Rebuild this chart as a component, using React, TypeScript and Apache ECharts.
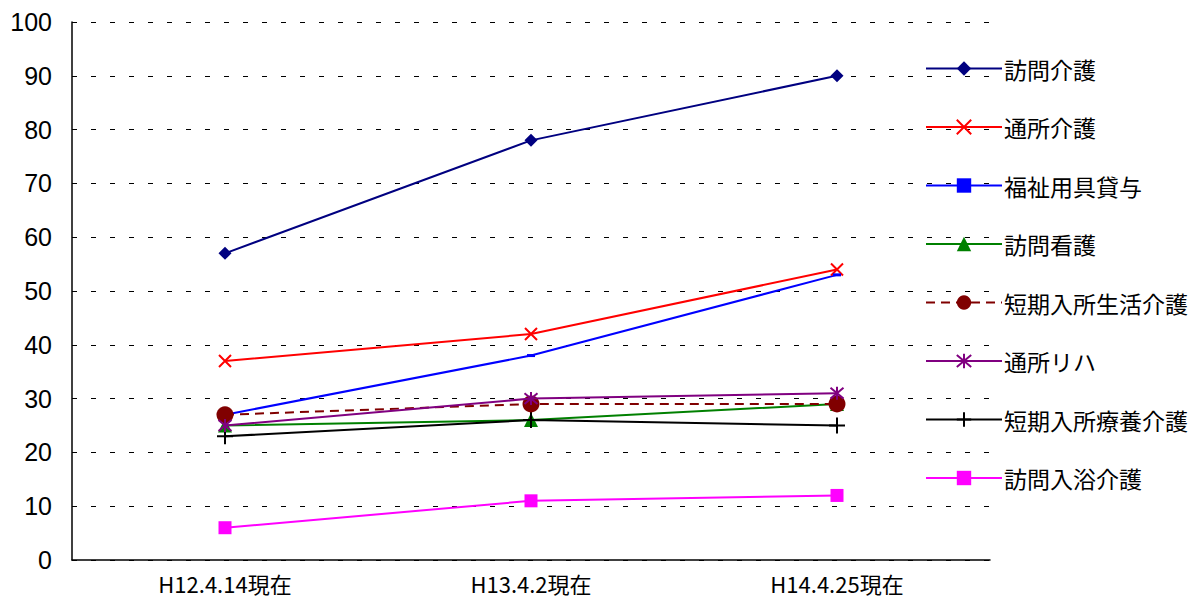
import React, { useEffect, useRef } from "react";
import * as echarts from "echarts";

const categories = ["H12.4.14現在", "H13.4.2現在", "H14.4.25現在"];
const seriesNames = [
  "訪問介護",
  "通所介護",
  "福祉用具貸与",
  "訪問看護",
  "短期入所生活介護",
  "通所リハ",
  "短期入所療養介護",
  "訪問入浴介護",
];
const houmonKaigo = [57, 78, 90];
const tsushoKaigo = [37, 42, 54];
const fukushiYogu = [27, 38, 53];
const houmonKango = [25, 26, 29];
const tankiSeikatsu = [27, 29, 29];
const tsushoReha = [25, 30, 31];
const tankiRyoyo = [23, 26, 25];
const houmonNyuyoku = [6, 11, 12];
const yTicks = [0, 10, 20, 30, 40, 50, 60, 70, 80, 90, 100];

const X_PATH = "path://M0,0L10,10M10,0L0,10";
const STAR_PATH = "path://M0,0L10,10M10,0L0,10M5,-1L5,11";
const PLUS_PATH = "path://M5,0L5,10M0,5L10,5";

export default function App() {
  const ref = useRef<HTMLDivElement>(null);
  useEffect(() => {
    if (!ref.current) return;
    const chart = echarts.init(ref.current, null, { renderer: "svg" });
    const mk = (
      name: string,
      data: number[],
      color: string,
      symbol: string,
      symbolSize: any,
      opts: any = {}
    ) => ({
      name,
      type: "line",
      data,
      symbol,
      symbolSize,
      lineStyle: { color, width: 2, type: opts.dashed ? [9, 6] : "solid" },
      itemStyle: opts.stroke
        ? { color: "transparent", borderColor: color, borderWidth: 2 }
        : { color, borderWidth: 0 },
      emphasis: { disabled: true },
      z: opts.z ?? 2,
    });
    chart.setOption({
      animation: false,
      backgroundColor: "#ffffff",
      grid: { left: 72, right: 211, top: 22, bottom: 39, containLabel: false },
      legend: {
        orient: "vertical",
        left: 920,
        top: 52,
        itemWidth: 76,
        itemHeight: 18,
        itemGap: 35.5,
        textStyle: {
          fontSize: 23,
          color: "#000",
          fontFamily: "Noto Sans CJK JP",
          padding: [0, 0, 0, -3],
        },
        data: seriesNames,
      },
      xAxis: {
        type: "category",
        data: categories,
        boundaryGap: true,
        axisLine: { lineStyle: { color: "#000", width: 1.5 } },
        axisTick: { inside: true, length: 5, lineStyle: { color: "#000" } },
        axisLabel: {
          fontSize: 22,
          color: "#000",
          fontFamily: "Noto Sans CJK JP",
          margin: 12,
        },
      },
      yAxis: {
        type: "value",
        min: yTicks[0],
        max: yTicks[yTicks.length - 1],
        interval: 10,
        axisLine: { show: true, lineStyle: { color: "#000", width: 1.5 } },
        axisTick: { show: false },
        axisLabel: {
          fontSize: 25,
          color: "#000",
          fontFamily: "Liberation Sans",
          margin: 20,
        },
        splitLine: {
          show: true,
          lineStyle: { color: "#000", type: [5, 14], width: 1 },
        },
      },
      series: [
        mk(seriesNames[0], houmonKaigo, "#000080", "diamond", 13),
        mk(seriesNames[1], tsushoKaigo, "#FF0000", X_PATH, 12, { stroke: true }),
        mk(seriesNames[2], fukushiYogu, "#0000FF", "rect", [8, 3]),
        mk(seriesNames[3], houmonKango, "#008000", "triangle", 14),
        mk(seriesNames[4], tankiSeikatsu, "#800000", "circle", 17, { dashed: true, z: 3 }),
        mk(seriesNames[5], tsushoReha, "#800080", STAR_PATH, 13, { stroke: true, z: 4 }),
        mk(seriesNames[6], tankiRyoyo, "#000000", PLUS_PATH, 16, { stroke: true }),
        mk(seriesNames[7], houmonNyuyoku, "#FF00FF", "rect", 13),
      ],
    });
    return () => chart.dispose();
  }, []);
  return (
    <div
      ref={ref}
      style={{ position: "fixed", left: 0, top: 0, width: 1201, height: 599 }}
    />
  );
}
